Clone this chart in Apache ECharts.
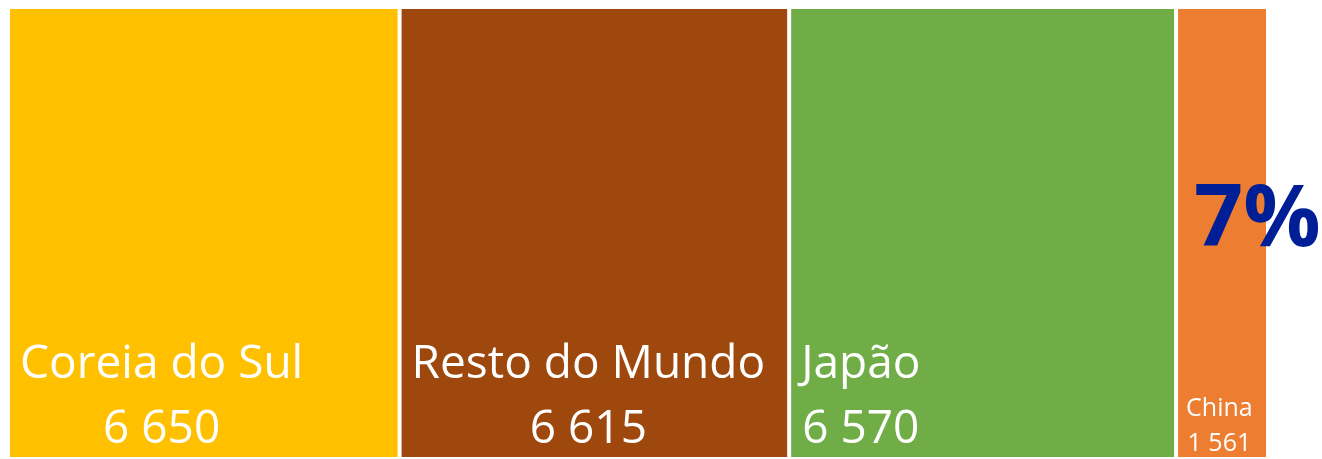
<!DOCTYPE html>
<html>
<head>
<meta charset="utf-8">
<script src="https://cdn.jsdelivr.net/npm/echarts@6/dist/echarts.min.js"></script>
<style>
  html, body { margin: 0; padding: 0; background: #fff; }
  #main { width: 1322px; height: 459px; }
</style>
</head>
<body>
<div id="main"></div>
<script>
// dados
const regioes = ["Coreia do Sul", "Resto do Mundo", "Japão", "China"];
const valores = [6650, 6615, 6570, 1561];
const cores = ["#FFC000", "#9E480E", "#70AD47", "#ED7D31"];
const destaque = "7%";

const fmt = (v) => String(v).replace(/\B(?=(\d{3})+(?!\d))/g, " ");
const total = valores.reduce((a, b) => a + b, 0);

let myChart = echarts.init(document.getElementById("main"));

const series = regioes.map((nome, i) => {
  const small = valores[i] < 3000; // China é estreita, texto menor
  return {
    name: nome,
    type: "bar",
    stack: "total",
    barWidth: "100%",
    data: [valores[i]],
    itemStyle: { color: cores[i], borderColor: "#fff", borderWidth: 2 },
    label: {
      show: true,
      position: [small ? 10 : 12, "100%"],
      offset: [0, small ? 2 : 3],
      align: "left",
      verticalAlign: "bottom",
      color: "#fff",
      fontFamily: "Open Sans",
      formatter: "{a|" + nome + "}\n{a|" + fmt(valores[i]) + "}",
      rich: {
        a: {
          align: "center",
          color: "#fff",
          fontFamily: "Open Sans",
          fontSize: small ? 25 : 46,
          lineHeight: small ? 35 : 65,
        },
      },
    },
    silent: true,
  };
});

myChart.setOption({
  animation: false,
  grid: { left: 8, right: 54, top: 7, bottom: -12 },
  xAxis: { type: "value", min: 0, max: total, show: false },
  yAxis: { type: "category", data: [""], show: false },
  series: series,
  graphic: [
    {
      type: "text",
      left: 1194,
      top: 178,
      z: 100,
      style: {
        text: destaque,
        fill: "#001F96",
        font: "bold 86px 'Open Sans'",
      },
    },
  ],
});
</script>
</body>
</html>
